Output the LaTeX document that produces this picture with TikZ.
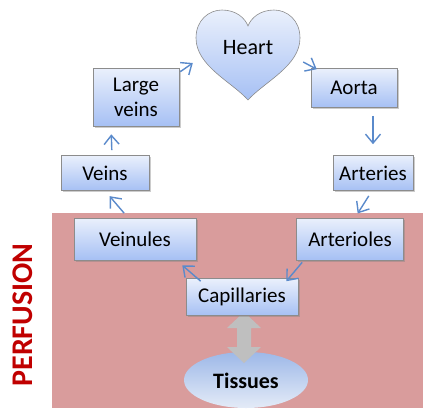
\documentclass[tikz,border=0pt]{standalone}
\usepackage{fontspec}
\setmainfont{Carlito}
\usetikzlibrary{arrows.meta,shadows,calc}
\definecolor{pinkbg}{HTML}{D99C9C}
\definecolor{flowblue}{HTML}{5A8ACB}
\definecolor{boxtop}{HTML}{EAF0FC}
\definecolor{boxbot}{HTML}{A6C0F4}
\definecolor{perfred}{HTML}{C00000}
\definecolor{tistop}{HTML}{9DB8E8}
\definecolor{tisbot}{HTML}{E4EBF7}
\tikzset{
  vessel/.style={draw=black!45, line width=0.6pt, top color=boxtop, bottom color=boxbot,
    drop shadow={shadow xshift=1.8pt, shadow yshift=-1.8pt, opacity=0.4},
    font=\fontsize{21}{25}\selectfont, align=center, inner sep=0pt},
  flow/.style={draw=flowblue, line width=1.4pt, -{Straight Barb[length=9pt,width=15pt]}},
}
\begin{document}
\begin{tikzpicture}[x=1pt,y=-1pt]
\useasboundingbox (0,0) rectangle (423,408);
% perfusion zone
\fill[pinkbg] (52,213) rectangle (423,408);
\node[rotate=90, text=perfred, font=\fontsize{30}{34}\selectfont\bfseries] (perf) at (23,315) {PERFUSION};
% heart
\shade[top color=boxtop, bottom color=boxbot, draw=black!45, line width=0.6pt]
  (248,100) .. controls (232,82) and (196,66) .. (196,38)
  .. controls (196,20) and (209,10) .. (222,10)
  .. controls (236,10) and (245,18) .. (248,26)
  .. controls (251,18) and (260,10) .. (274,10)
  .. controls (287,10) and (300,20) .. (300,38)
  .. controls (300,66) and (264,82) .. (248,100) -- cycle;
\node[minimum width=104pt, minimum height=90pt, inner sep=0pt] (heart) at (248,55) {};
\node[font=\fontsize{22}{26}\selectfont] (hearttext) at (248,48) {Heart};
% boxes
\node[vessel, minimum width=86pt, minimum height=58pt] (lveins) at (136,97) {Large\\veins};
\node[vessel, minimum width=86pt, minimum height=39pt] (aorta) at (354,88) {Aorta};
\node[vessel, minimum width=88pt, minimum height=35pt] (veins) at (105,173) {Veins};
\node[vessel, minimum width=80pt, minimum height=35pt] (arteries) at (373,173) {Arteries};
\node[vessel, minimum width=122pt, minimum height=42pt] (veinules) at (135,239) {Veinules};
\node[vessel, minimum width=107pt, minimum height=42pt] (arterioles) at (350,239) {Arterioles};
% tissues and exchange arrow
\shade[top color=tistop, bottom color=tisbot] (246,380) ellipse [x radius=62, y radius=28];
\node[font=\fontsize{22}{26}\selectfont\bfseries] (tissues) at (246,381) {Tissues};
\fill[black!25] (244,312) -- (261,328) -- (251,328) -- (251,347) -- (261,347) -- (244,363)
  -- (227,347) -- (237,347) -- (237,328) -- (227,328) -- cycle;
\node[vessel, minimum width=112pt, minimum height=37pt] (capil) at (242,297) {Capillaries};
% flow arrows
\draw[flow] ([xshift=3pt,yshift=-7pt]heart.east) -- ([xshift=6pt,yshift=-1pt]aorta.north west);
\draw[flow, shorten <=8pt, shorten >=11pt] (aorta.south -| arteries.north) -- (arteries.north);
\draw[flow, shorten <=6pt, shorten >=5pt] ([xshift=-1pt]arteries.south) -- ([xshift=5pt]arterioles.north);
\draw[flow] ([xshift=6pt,yshift=-2pt]arterioles.south west) -- ([xshift=-12pt,yshift=-3pt]capil.north east);
\draw[flow] ([xshift=15pt,yshift=-3pt]capil.north west) -- ([xshift=-14pt,yshift=-5pt]veinules.south east);
\draw[flow, shorten <=6pt, shorten >=7pt] ([xshift=-7pt]veinules.north) -- (veins.south);
\draw[flow, shorten <=5pt, shorten >=8pt] ([xshift=7pt]veins.north) -- ([xshift=-25pt]lveins.south);
\draw[flow] ([xshift=1pt,yshift=-4pt]lveins.north east) -- ([xshift=-3pt,yshift=-8pt]heart.west);
\end{tikzpicture}
\end{document}
